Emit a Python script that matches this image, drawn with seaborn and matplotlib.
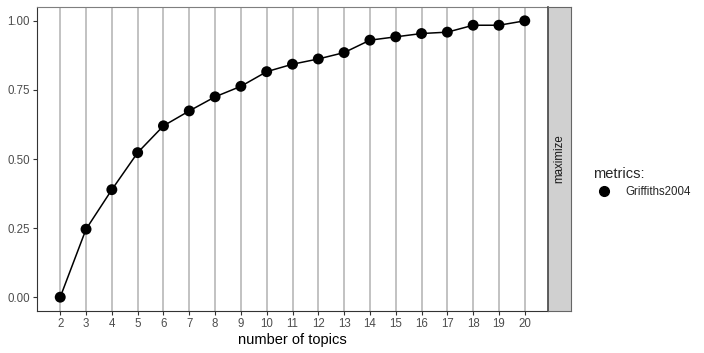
import matplotlib
matplotlib.use("Agg")
import matplotlib.pyplot as plt
import seaborn as sns
import pandas as pd
from matplotlib.lines import Line2D

topics = [2, 3, 4, 5, 6, 7, 8, 9, 10, 11, 12, 13, 14, 15, 16, 17, 18, 19, 20]
griffiths = [0.0, 0.246, 0.389, 0.523, 0.620, 0.674, 0.725, 0.763, 0.816, 0.843,
             0.862, 0.885, 0.930, 0.942, 0.954, 0.959, 0.984, 0.984, 1.0]
metric_names = ["Griffiths2004"]
y_ticks = [0.0, 0.25, 0.5, 0.75, 1.0]
y_tick_labels = ["0.00", "0.25", "0.50", "0.75", "1.00"]
facet_label = "maximize"

df = pd.DataFrame({"topics": topics, "value": griffiths,
                   "metrics": metric_names[0]})

sns.set_style("white")
plt.rcParams["font.family"] = ["Liberation Sans", "DejaVu Sans"]

fig = plt.figure(figsize=(7.04, 3.53), dpi=100)
W, H = 704, 353
ax = fig.add_axes([37 / W, 1 - 311 / H, (548 - 37) / W, (311 - 7) / H])

for t in topics:
    ax.axvline(t, color="#BDBDBD", lw=1.3, zorder=0)

sns.lineplot(data=df, x="topics", y="value", color="black", lw=1.1,
             legend=False, ax=ax, zorder=2)
sns.scatterplot(data=df, x="topics", y="value", hue="metrics",
                palette=["black"], s=62, edgecolor="black", linewidth=0,
                legend=False, ax=ax, zorder=3)

ax.set_xlim(1.1, 20.9)
ax.set_ylim(-0.05, 1.05)
ax.set_xticks(topics)
ax.set_xticklabels([str(t) for t in topics])
ax.set_yticks(y_ticks)
ax.set_yticklabels(y_tick_labels)
ax.tick_params(axis="both", which="both", length=3, width=0.8, color="#333333",
               labelsize=8.3, labelcolor="#4D4D4D", pad=2)
ax.tick_params(left=True, bottom=True)
ax.set_xlabel("number of topics", fontsize=10.5, color="black", labelpad=2)
ax.set_ylabel("")
for side in ["top", "right"]:
    ax.spines[side].set_color("#7F7F7F")
    ax.spines[side].set_linewidth(0.8)
for side in ["left", "bottom"]:
    ax.spines[side].set_color("#333333")
    ax.spines[side].set_linewidth(0.8)

# facet strip
sax = fig.add_axes([548 / W, 1 - 311 / H, (571 - 548) / W, (311 - 7) / H])
sax.set_facecolor("#D0D0D0")
sax.set_xticks([])
sax.set_yticks([])
for side, s in sax.spines.items():
    s.set_color("#666666")
    s.set_linewidth(0.8)
sax.spines["left"].set_color("#444444")
sax.spines["left"].set_linewidth(1.2)
sax.text(0.5, 0.5, facet_label, rotation=90, ha="center", va="center",
         fontsize=8.3, color="#1A1A1A", transform=sax.transAxes)

# legend
handles = [Line2D([0], [0], marker="o", color="none", markerfacecolor="black",
                  markeredgecolor="black", markersize=7)]
leg = fig.legend(handles, metric_names, title="metrics:",
                 loc="upper left", bbox_to_anchor=(588 / W, 1 - 162 / H),
                 frameon=False, fontsize=8.3, title_fontsize=10.5,
                 handletextpad=0.8, borderaxespad=0)
leg._legend_box.align = "left"

fig.savefig("out.png", dpi=100)
